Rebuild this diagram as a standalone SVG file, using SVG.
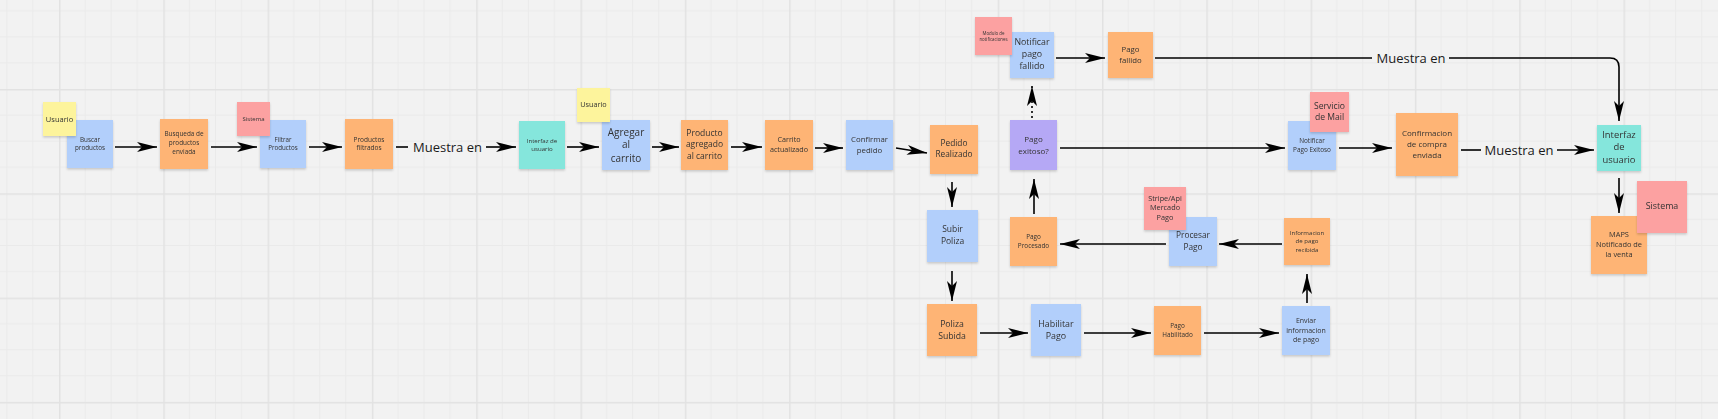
<svg xmlns="http://www.w3.org/2000/svg" width="1718" height="419" viewBox="0 0 1718 419">
<defs>
<pattern id="grid" patternUnits="userSpaceOnUse" x="59" y="89" width="104.3" height="104.3">
<path d="M26.075 0V104.3M52.15 0V104.3M78.225 0V104.3M0 26.075H104.3M0 52.15H104.3M0 78.225H104.3" stroke="#eaeaea" stroke-width="1" fill="none"/>
<path d="M0.75 0V104.3M0 0.75H104.3" stroke="#e2e2e2" stroke-width="1.5" fill="none"/>
</pattern>
<filter id="sh" x="-20%" y="-20%" width="140%" height="150%">
<feDropShadow dx="0" dy="1.5" stdDeviation="1.2" flood-color="#000" flood-opacity="0.18"/>
</filter>
<marker id="ah" markerUnits="userSpaceOnUse" markerWidth="22" markerHeight="12" refX="20" refY="5" orient="auto" overflow="visible">
<path d="M0,0 L20,5 L0,10 L5,5 Z" fill="#000"/>
</marker>
<style>
.n{filter:url(#sh)}
.b{fill:#b2cffb}
.o{fill:#feb474}
.r{fill:#fca1a1}
.y{fill:#fdf49c}
.t{fill:#85e6dc}
.p{fill:#b5a8f5}
text{font-family:"Open Sans","Noto Sans","DejaVu Sans",sans-serif;fill:#333;text-anchor:middle}
.lbl{font-size:13px;fill:#1a1a1a}
.e{stroke:#000;stroke-width:1.6;fill:none}
.ea{stroke:#000;stroke-width:1.6;fill:none;marker-end:url(#ah)}
</style>
</defs>
<rect width="1718" height="419" fill="#f2f2f2"/>
<rect width="1718" height="419" fill="url(#grid)"/>

<g id="connectors">
<line class="ea" x1="115" y1="147" x2="157" y2="147"/>
<line class="ea" x1="211" y1="147" x2="257" y2="147"/>
<line class="ea" x1="309" y1="147" x2="342" y2="147"/>
<line class="e" x1="396" y1="147" x2="408" y2="147"/>
<line class="ea" x1="486" y1="147" x2="516" y2="147"/>
<text class="lbl" x="447.5" y="151.5">Muestra en</text>
<line class="ea" x1="567" y1="147" x2="599" y2="147"/>
<line class="ea" x1="652" y1="147" x2="679" y2="147"/>
<line class="ea" x1="731" y1="147" x2="762" y2="147"/>
<line class="ea" x1="815" y1="148" x2="843" y2="148"/>
<line class="ea" x1="896" y1="148" x2="927" y2="153"/>
<line class="ea" x1="952" y1="182" x2="952" y2="207"/>
<line class="ea" x1="952" y1="271" x2="952" y2="301"/>
<line class="ea" x1="980" y1="333" x2="1028" y2="333"/>
<line class="ea" x1="1084" y1="333" x2="1151" y2="333"/>
<line class="ea" x1="1204" y1="333" x2="1279" y2="333"/>
<line class="ea" x1="1307" y1="303" x2="1307" y2="274"/>
<line class="ea" x1="1282" y1="244" x2="1219" y2="244"/>
<line class="ea" x1="1166" y1="244" x2="1060" y2="244"/>
<line class="ea" x1="1034" y1="214" x2="1034" y2="179"/>
<line class="ea" x1="1032" y1="118" x2="1032" y2="86" stroke-dasharray="2 3"/>
<line class="ea" x1="1056" y1="58" x2="1105" y2="58"/>
<line class="e" x1="1155" y1="58" x2="1372" y2="58"/>
<path class="ea" d="M1449 58 H1610 Q1619 58 1619 67 V121"/>
<text class="lbl" x="1411" y="62.5">Muestra en</text>
<line class="ea" x1="1060" y1="148" x2="1285" y2="148"/>
<line class="ea" x1="1339" y1="148" x2="1392" y2="148"/>
<line class="e" x1="1461" y1="150" x2="1481" y2="150"/>
<line class="ea" x1="1557" y1="150" x2="1594" y2="150"/>
<text class="lbl" x="1519" y="154.5">Muestra en</text>
<line class="ea" x1="1619" y1="178" x2="1619" y2="213"/>
</g>

<g id="buscar" class="n"><rect class="b" x="67" y="120" width="46" height="48"/><text font-size="6.3"><tspan x="90" y="142">Buscar</tspan><tspan x="90" y="150">productos</tspan></text></g>
<g id="usuario1" class="n"><rect class="y" x="43" y="102" width="33" height="34"/><text font-size="7.5" x="59.5" y="121.5">Usuario</text></g>
<g id="busqueda" class="n"><rect class="o" x="160" y="119" width="48" height="50"/><text font-size="6.4"><tspan x="184" y="136">Busqueda de</tspan><tspan x="184" y="145">productos</tspan><tspan x="184" y="154">enviada</tspan></text></g>
<g id="filtrar" class="n"><rect class="b" x="260" y="120" width="46" height="48"/><text font-size="6.2"><tspan x="283" y="142">Filtrar</tspan><tspan x="283" y="150">Productos</tspan></text></g>
<g id="sistema1" class="n"><rect class="r" x="237" y="102" width="33" height="34"/><text font-size="6" x="253.5" y="121">Sistema</text></g>
<g id="productos-filtrados" class="n"><rect class="o" x="345" y="119" width="48" height="50"/><text font-size="6.5"><tspan x="369" y="141.5">Productos</tspan><tspan x="369" y="149.5">filtrados</tspan></text></g>
<g id="interfaz1" class="n"><rect class="t" x="519" y="121" width="46" height="48"/><text font-size="6.1"><tspan x="542" y="143">Interfaz de</tspan><tspan x="542" y="151">usuario</tspan></text></g>
<g id="agregar" class="n"><rect class="b" x="602" y="120" width="48" height="50"/><text font-size="10"><tspan x="626" y="135.5">Agregar</tspan><tspan x="626" y="148">al</tspan><tspan x="626" y="161.5">carrito</tspan></text></g>
<g id="usuario2" class="n"><rect class="y" x="577" y="88" width="33" height="34"/><text font-size="7.3" x="593.5" y="106.8">Usuario</text></g>
<g id="producto-agregado" class="n"><rect class="o" x="681" y="120" width="47" height="50"/><text font-size="8.5"><tspan x="704.5" y="135.5">Producto</tspan><tspan x="704.5" y="147">agregado</tspan><tspan x="704.5" y="159">al carrito</tspan></text></g>
<g id="carrito" class="n"><rect class="o" x="765" y="120" width="48" height="50"/><text font-size="7.2"><tspan x="789" y="141.5">Carrito</tspan><tspan x="789" y="151.8">actualizado</tspan></text></g>
<g id="confirmar" class="n"><rect class="b" x="846" y="120" width="47" height="50"/><text font-size="7.8"><tspan x="869.5" y="142">Confirmar</tspan><tspan x="869.5" y="152.7">pedido</tspan></text></g>
<g id="pedido" class="n"><rect class="o" x="930" y="125" width="48" height="49"/><text font-size="8.3"><tspan x="954" y="146">Pedido</tspan><tspan x="954" y="157.3">Realizado</tspan></text></g>
<g id="pago-exitoso" class="n"><rect class="p" x="1010" y="120" width="47" height="50"/><text font-size="8"><tspan x="1033.5" y="141.8">Pago</tspan><tspan x="1033.5" y="153.5">exitoso?</tspan></text></g>
<g id="notificar-fallido" class="n"><rect class="b" x="1010" y="32" width="44" height="46"/><text font-size="8.8"><tspan x="1032" y="45.3">Notificar</tspan><tspan x="1032" y="57.3">pago</tspan><tspan x="1032" y="69.3">fallido</tspan></text></g>
<g id="modulo" class="n"><rect class="r" x="975" y="17" width="37" height="38"/><text font-size="4.4"><tspan x="993.5" y="34.5">Modulo de</tspan><tspan x="993.5" y="40.5">notificaciones</tspan></text></g>
<g id="pago-fallido" class="n"><rect class="o" x="1108" y="32" width="45" height="46"/><text font-size="7.8"><tspan x="1130.5" y="51.7">Pago</tspan><tspan x="1130.5" y="62.7">fallido</tspan></text></g>
<g id="subir" class="n"><rect class="b" x="927" y="210" width="51" height="52"/><text font-size="8.5"><tspan x="952.5" y="232">Subir</tspan><tspan x="952.5" y="244">Poliza</tspan></text></g>
<g id="poliza-subida" class="n"><rect class="o" x="927" y="304" width="50" height="52"/><text font-size="8.7"><tspan x="952" y="326.7">Poliza</tspan><tspan x="952" y="338.7">Subida</tspan></text></g>
<g id="habilitar" class="n"><rect class="b" x="1031" y="304" width="50" height="52"/><text font-size="8.9"><tspan x="1056" y="326.7">Habilitar</tspan><tspan x="1056" y="338.7">Pago</tspan></text></g>
<g id="pago-habilitado" class="n"><rect class="o" x="1154" y="306" width="47" height="49"/><text font-size="6.4"><tspan x="1177.5" y="328">Pago</tspan><tspan x="1177.5" y="337">Habilitado</tspan></text></g>
<g id="enviar" class="n"><rect class="b" x="1282" y="306" width="48" height="49"/><text font-size="7"><tspan x="1306" y="322.8">Enviar</tspan><tspan x="1306" y="332.5">informacion</tspan><tspan x="1306" y="342.2">de pago</tspan></text></g>
<g id="info-recibida" class="n"><rect class="o" x="1284" y="218" width="46" height="47"/><text font-size="6.1"><tspan x="1307" y="234.5">Informacion</tspan><tspan x="1307" y="243.2">de pago</tspan><tspan x="1307" y="251.5">recibida</tspan></text></g>
<g id="procesar" class="n"><rect class="b" x="1169" y="217" width="48" height="49"/><text font-size="8.3"><tspan x="1193" y="238">Procesar</tspan><tspan x="1193" y="249.7">Pago</tspan></text></g>
<g id="stripe" class="n"><rect class="r" x="1144" y="187" width="42" height="43"/><text font-size="7.3"><tspan x="1165" y="200.5">Stripe/Api</tspan><tspan x="1165" y="210.2">Mercado</tspan><tspan x="1165" y="220.2">Pago</tspan></text></g>
<g id="pago-procesado" class="n"><rect class="o" x="1010" y="217" width="47" height="49"/><text font-size="6.4"><tspan x="1033.5" y="239">Pago</tspan><tspan x="1033.5" y="247.6">Procesado</tspan></text></g>
<g id="notificar-exitoso" class="n"><rect class="b" x="1288" y="121" width="48" height="49"/><text font-size="6.4"><tspan x="1312" y="142.6">Notificar</tspan><tspan x="1312" y="151.6">Pago Exitoso</tspan></text></g>
<g id="servicio-mail" class="n"><rect class="r" x="1310" y="92" width="39" height="40"/><text font-size="8.6"><tspan x="1329.5" y="109">Servicio</tspan><tspan x="1329.5" y="120.3">de Mail</tspan></text></g>
<g id="confirmacion" class="n"><rect class="o" x="1396" y="113" width="62" height="63"/><text font-size="8"><tspan x="1427" y="135.5">Confirmacion</tspan><tspan x="1427" y="146.8">de compra</tspan><tspan x="1427" y="157.8">enviada</tspan></text></g>
<g id="interfaz2" class="n"><rect class="t" x="1597" y="125" width="44" height="46"/><text font-size="9.4"><tspan x="1619" y="137.5">Interfaz</tspan><tspan x="1619" y="150.2">de</tspan><tspan x="1619" y="163.2">usuario</tspan></text></g>
<g id="maps" class="n"><rect class="o" x="1591" y="216" width="56" height="58"/><text font-size="7.4"><tspan x="1619" y="236.5">MAPS</tspan><tspan x="1619" y="246.8">Notificado de</tspan><tspan x="1619" y="256.8">la venta</tspan></text></g>
<g id="sistema2" class="n"><rect class="r" x="1637" y="181" width="50" height="52"/><text font-size="8.9" x="1662" y="209.3">Sistema</text></g>
</svg>
